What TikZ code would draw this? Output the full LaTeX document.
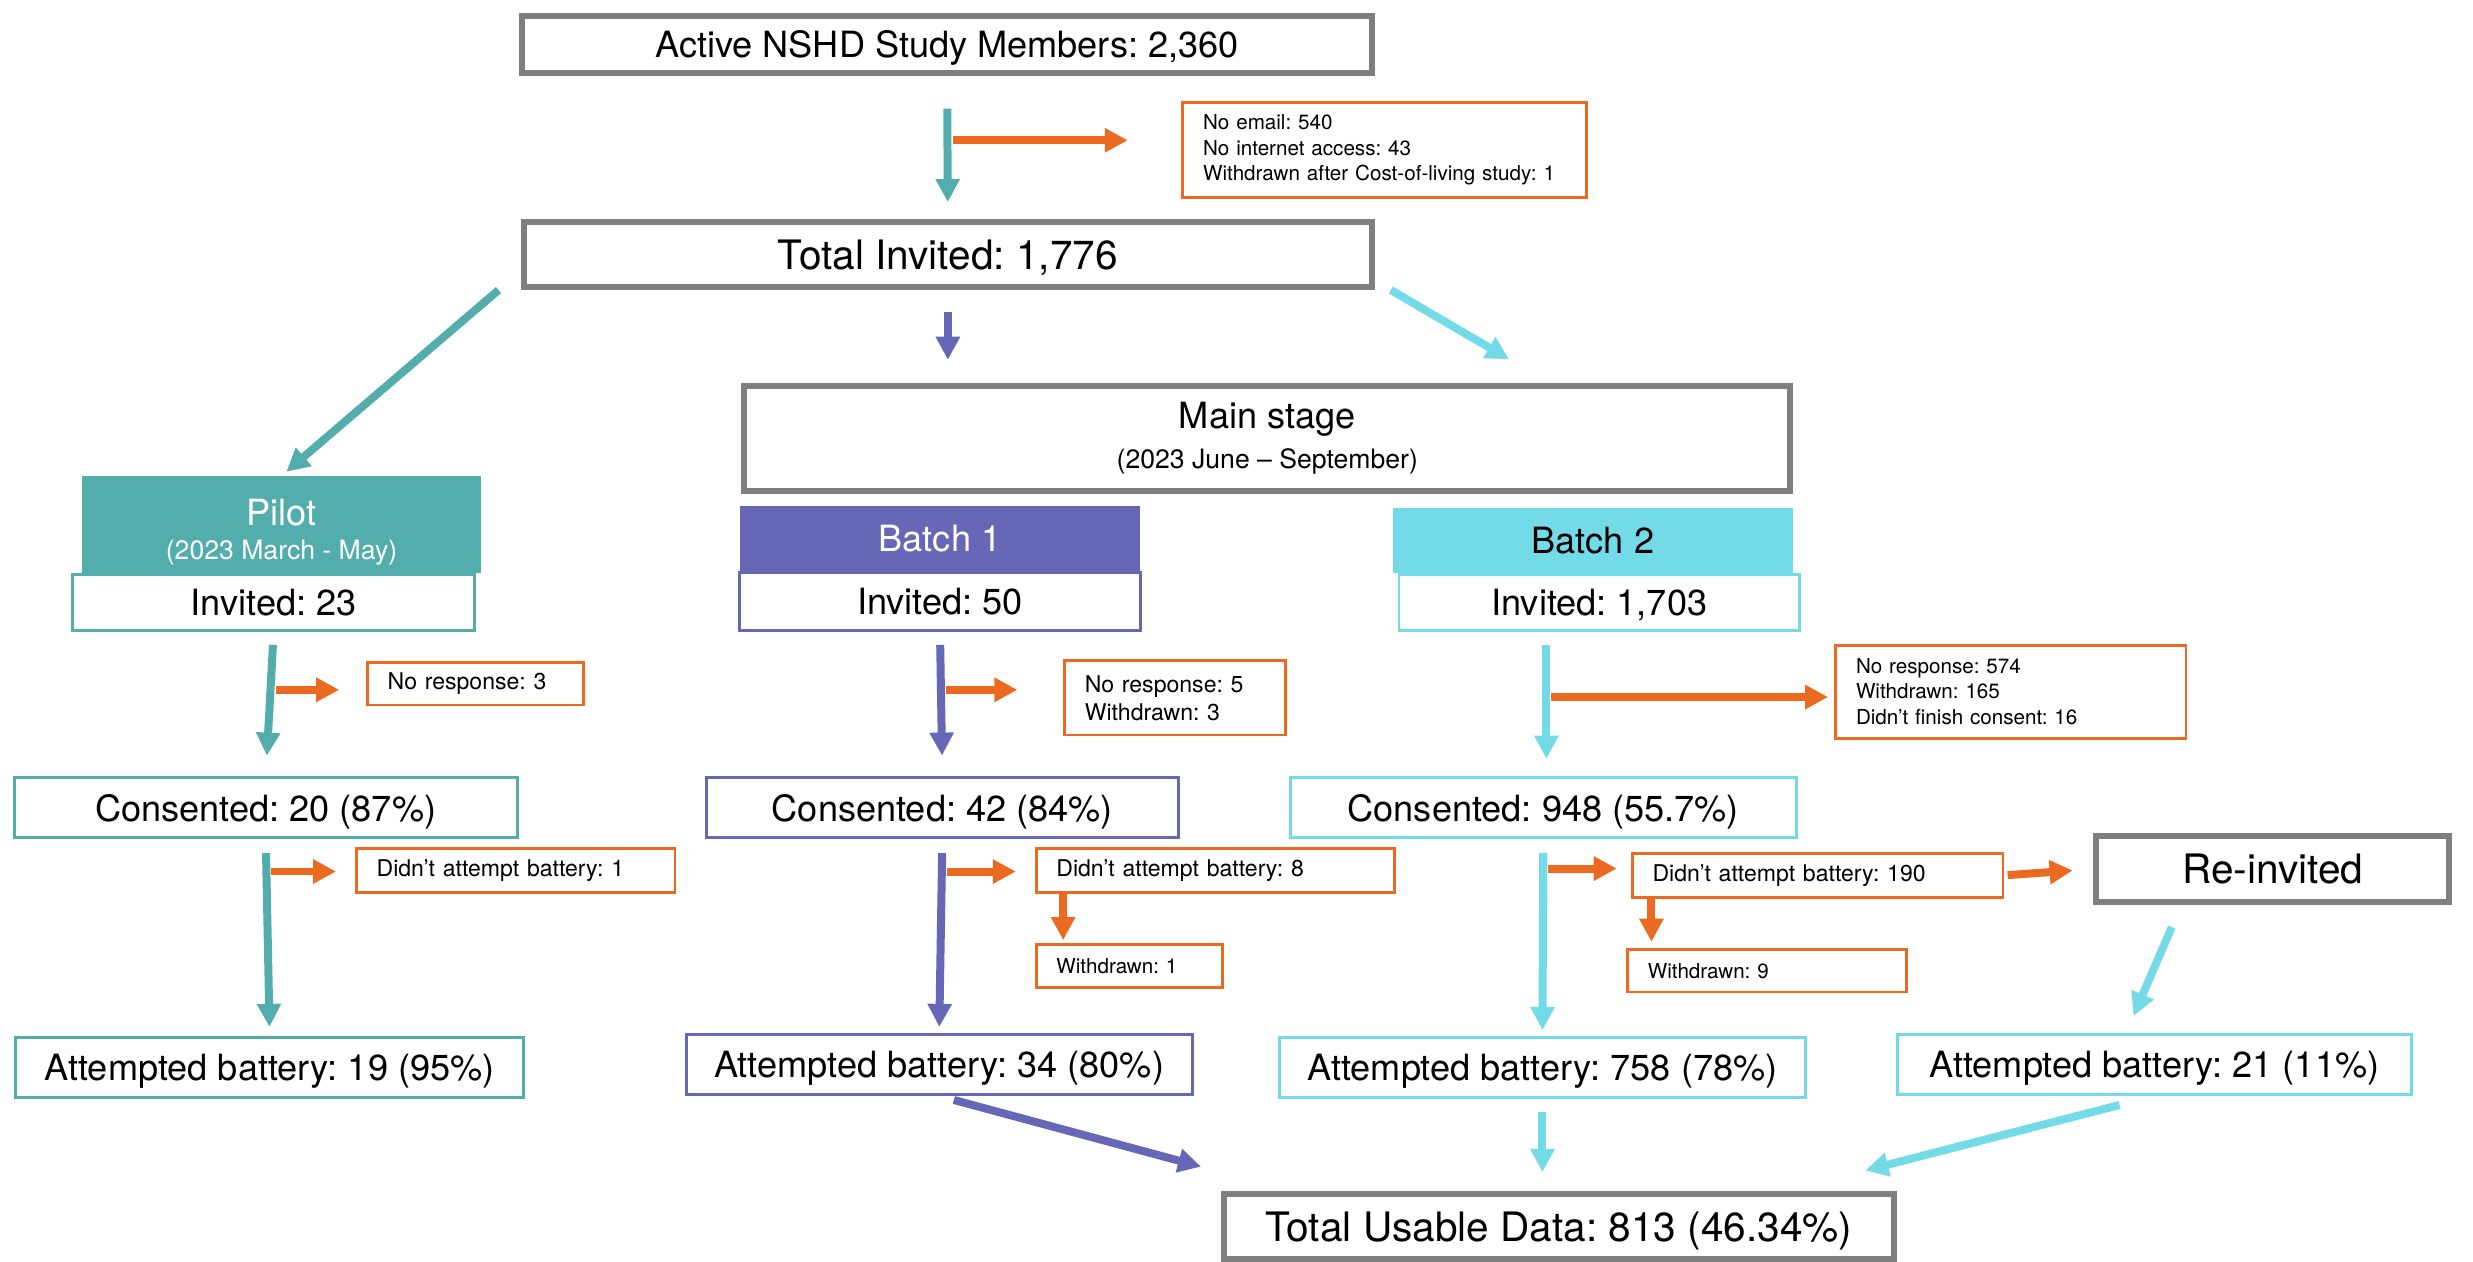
\documentclass[tikz,border=0pt]{standalone}
\usepackage{fontspec}
\setmainfont{TeX Gyre Heros}
\usepackage{tikz}
\usetikzlibrary{arrows.meta}
\frenchspacing

\definecolor{pilotc}{HTML}{53ADAD}
\definecolor{batchone}{HTML}{6767B8}
\definecolor{batchtwo}{HTML}{73DAE8}
\definecolor{dropout}{HTML}{EB6A1F}
\definecolor{framegray}{HTML}{7F7F7F}

\tikzset{
    stagebox/.style={draw=framegray, line width=2.7pt, inner sep=0pt, text depth=0pt, font=\fontsize{16.3}{19}\selectfont},
    bigtext/.style={font=\fontsize{18.3}{22}\selectfont},
    countbox/.style={draw=#1, line width=1.3pt, inner sep=0pt, text depth=0pt, minimum height=9.5mm, font=\fontsize{16.3}{19}\selectfont},
    header/.style={fill=#1, inner sep=0pt, align=center, font=\fontsize{16.3}{19}\selectfont},
    dropbox/.style={draw=dropout, line width=1.3pt, align=left, inner xsep=3.2mm, inner ysep=0pt, text width=#1, font=\fontsize{9.3}{11.4}\selectfont},
    dropbig/.style={font=\fontsize{10.4}{12.6}\selectfont},
    flowarrow/.style={draw=#1, line width=3.6pt, -{Triangle[length=3.65mm, width=3.65mm]}},
}

\begin{document}
\begin{tikzpicture}[x=0.25mm, y=-0.25mm]
    \useasboundingbox (0,0) rectangle (1568,800);

    \node[stagebox, minimum width=134.75mm, minimum height=9mm] (active) at (600.5,28) {Active NSHD Study Members: 2,360};
    \node[dropbox=57.6mm, minimum height=15mm] (nonet) at (878,95) {No email: 540\\No internet access: 43\\Withdrawn after Cost-of-living study: 1};
    \node[stagebox, bigtext, minimum width=134.5mm, minimum height=10.25mm] (totinv) at (601,161.5) {Total Invited: 1,776};
    \node[stagebox, text depth=, minimum width=165.75mm, minimum height=16.5mm, align=center] (mainstage) at (803.5,278) {Main stage\\[-1pt]{\fontsize{12}{14}\selectfont (2023 June – September)}};

    \node[countbox=pilotc, minimum width=63.75mm, minimum height=9mm] (pilotinv) at (173.5,382) {Invited: 23};
    \node[header=pilotc, minimum width=63.25mm, minimum height=15.25mm, text=white, text height=34pt] (pilothead) at (178.5,332.5) {Pilot\\[-4pt]{\fontsize{12}{14}\selectfont (2023 March - May)}};
    \node[countbox=batchone, minimum width=63.5mm, minimum height=9.25mm] (oneinv) at (596,381.5) {Invited: 50};
    \node[header=batchone, minimum width=63.5mm, minimum height=10.25mm, text=white, text depth=0pt] (onehead) at (596,341.5) {Batch 1};
    \node[countbox=batchtwo, minimum width=63.5mm, minimum height=9mm] (twoinv) at (1014,382) {Invited: 1,703};
    \node[header=batchtwo, minimum width=63.5mm, minimum height=10.25mm, text depth=0pt] (twohead) at (1010,342.5) {Batch 2};

    \node[dropbox=27.85mm, dropbig, minimum height=6.75mm] (pilotnr) at (301.5,433.5) {No response: 3};
    \node[dropbox=28.6mm, dropbig, minimum height=11.75mm] (onenr) at (745,442.5) {No response: 5\\Withdrawn: 3};
    \node[dropbox=49.1mm, minimum height=14.75mm] (twonr) at (1275,438.5) {No response: 574\\Withdrawn: 165\\Didn’t finish consent: 16};

    \node[countbox=pilotc, minimum width=79.75mm] (pilotcons) at (168.5,512) {Consented: 20 (87\%)};
    \node[countbox=batchone, minimum width=74.75mm] (onecons) at (597.5,512) {Consented: 42 (84\%)};
    \node[countbox=batchtwo, minimum width=80.25mm] (twocons) at (978.5,512) {Consented: 948 (55.7\%)};

    \node[dropbox=44.1mm, dropbig, minimum height=7mm] (pilotna) at (327,552) {Didn’t attempt battery: 1};
    \node[dropbox=50.35mm, dropbig, minimum height=7mm] (onena) at (770.5,552) {Didn’t attempt battery: 8};
    \node[dropbox=23.1mm, minimum height=6.75mm] (onewd) at (716,612.5) {Withdrawn: 1};
    \node[dropbox=52.35mm, dropbig, minimum height=7mm] (twona) at (1152.5,555) {Didn’t attempt battery: 190};
    \node[dropbox=37.85mm, minimum height=6.75mm] (twowd) at (1120.5,615.5) {Withdrawn: 9};
    \node[stagebox, bigtext, minimum width=56mm, minimum height=10.5mm] (reinv) at (1441,551) {Re-invited};

    \node[countbox=pilotc, minimum width=80.5mm] (pilotatt) at (171,677) {Attempted battery: 19 (95\%)};
    \node[countbox=batchone, minimum width=80.25mm] (oneatt) at (595.5,675) {Attempted battery: 34 (80\%)};
    \node[countbox=batchtwo, minimum width=83.5mm] (twoatt) at (978,677) {Attempted battery: 758 (78\%)};
    \node[countbox=batchtwo, minimum width=81.5mm] (reatt) at (1366,675) {Attempted battery: 21 (11\%)};

    \node[stagebox, bigtext, minimum width=106.25mm, minimum height=10.25mm] (usable) at (988.5,777.5) {Total Usable Data: 813 (46.34\%)};

    \draw[flowarrow=pilotc, shorten <=5.25mm, shorten >=2.75mm] (active.south) -- coordinate[pos=0.45] (s0) (totinv.north);
    \draw[flowarrow=dropout, shorten <=0.8mm, shorten >=8.5mm] (s0) -- (s0 -| nonet.west);

    \draw[flowarrow=pilotc, shorten >=1mm] ([xshift=-3.5mm]totinv.south west) -- (pilothead.north);
    \draw[flowarrow=batchone, shorten <=3.5mm, shorten >=3.75mm] (totinv.south) -- (totinv.south |- mainstage.north);
    \draw[flowarrow=batchtwo, shorten >=7.6mm] ([xshift=2.5mm]totinv.south east) -- (mainstage.11.2);

    \draw[flowarrow=pilotc, shorten <=2mm, shorten >=3.25mm] (pilotinv.south) -- coordinate[pos=0.4] (s1) (pilotcons.north);
    \draw[flowarrow=dropout, shorten <=0.8mm, shorten >=4.25mm] (s1) -- (s1 -| pilotnr.west);
    \draw[flowarrow=pilotc, shorten <=2.25mm, shorten >=1.5mm] (pilotcons.south) -- coordinate[pos=0.165] (s2) (pilotatt.north);
    \draw[flowarrow=dropout, shorten <=0.8mm, shorten >=3mm] (s2) -- (s2 -| pilotna.west);

    \draw[flowarrow=batchone, shorten <=2mm, shorten >=3.25mm] (oneinv.south) -- coordinate[pos=0.4] (s3) (onecons.north);
    \draw[flowarrow=dropout, shorten <=0.8mm, shorten >=7.25mm] (s3) -- (s3 -| onenr.west);
    \draw[flowarrow=batchone, shorten <=2.25mm, shorten >=1mm] (onecons.south) -- coordinate[pos=0.168] (s4) (oneatt.north);
    \draw[flowarrow=dropout, shorten <=0.8mm, shorten >=3mm] (s4) -- (s4 -| onena.west);
    \draw[flowarrow=dropout, shorten >=0.5mm] ([xshift=4.5mm]onena.south west) -- ([xshift=4.5mm]onena.south west |- onewd.north);

    \draw[flowarrow=batchtwo, shorten <=2mm, shorten >=2.75mm] ([xshift=0.5mm]twocons.north |- twoinv.south) -- coordinate[pos=0.45] (s5) ([xshift=0.5mm]twocons.north);
    \draw[flowarrow=dropout, shorten <=0.8mm, shorten >=1mm] (s5) -- (s5 -| twonr.west);
    \draw[flowarrow=batchtwo, shorten <=2.25mm, shorten >=1mm] (twocons.south) -- coordinate[pos=0.15] (s6) (twoatt.north);
    \draw[flowarrow=dropout, shorten <=0.8mm, shorten >=2.25mm] (s6) -- (s6 -| twona.west);
    \draw[flowarrow=dropout, shorten >=1mm] ([xshift=3.25mm]twona.south west) -- ([xshift=3.25mm]twona.south west |- twowd.north);
    \draw[flowarrow=dropout, shorten <=0.5mm, shorten >=3.25mm] (twona.east) -- (reinv.west);
    \draw[flowarrow=batchtwo, shorten <=3.8mm, shorten >=3mm] ([xshift=-14.5mm]reinv.south) -- ([xshift=-4.5mm]reatt.north);

    \draw[flowarrow=batchone, shorten <=2.4mm, shorten >=3.25mm] (oneatt.south) -- ([yshift=3mm]usable.north west);
    \draw[flowarrow=batchtwo, shorten <=2mm, shorten >=3mm] (twoatt.south) -- (twoatt.south |- usable.north);
    \draw[flowarrow=batchtwo, shorten <=5.7mm, shorten >=1mm] (reatt.south) -- ([xshift=-6mm, yshift=3mm]usable.north east);
\end{tikzpicture}
\end{document}
